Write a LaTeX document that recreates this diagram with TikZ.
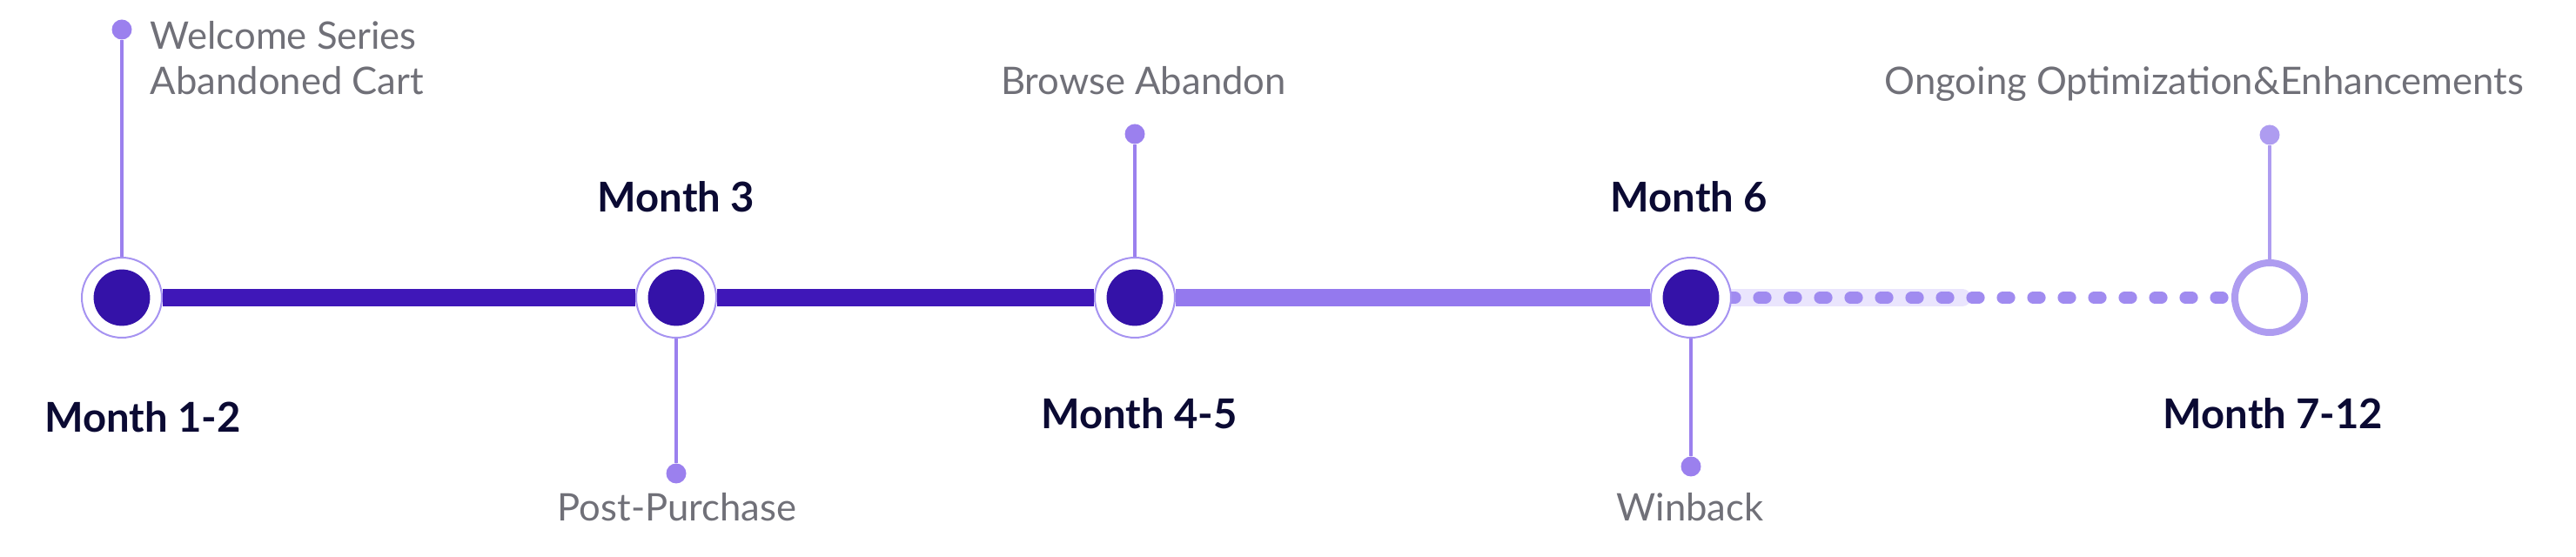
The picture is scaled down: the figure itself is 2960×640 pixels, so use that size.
\documentclass[tikz,border=0pt]{standalone}
\usepackage{fontspec}
\setmainfont{Lato}
\usetikzlibrary{positioning,backgrounds}
\pgfdeclarelayer{background layer}
\pgfsetlayers{background layer,main}
\definecolor{deep}{HTML}{3F17B8}
\definecolor{core}{HTML}{3412A8}
\definecolor{lilac}{HTML}{9479EE}
\definecolor{ringc}{HTML}{A693F1}
\definecolor{stemc}{HTML}{9B80EE}
\definecolor{pale}{HTML}{AE9CF0}
\definecolor{band}{HTML}{EAE5FD}
\definecolor{dashc}{HTML}{A08BF0}
\definecolor{title}{HTML}{0B0A33}
\definecolor{note}{HTML}{707078}

\begin{document}
\begin{tikzpicture}[x=0.25pt,y=-0.25pt,
	milestone/.style={circle,fill=white,draw=ringc,line width=0.5pt,minimum size=23pt,inner sep=0pt,
		path picture={\fill[core] (path picture bounding box.center) circle (8.1pt);}},
	future/.style={circle,fill=white,draw=pale,line width=2pt,minimum size=20pt,inner sep=0pt},
	knob/.style={circle,fill=#1,minimum size=5.75pt,inner sep=0pt},
	riser/.style={draw=#1,line width=1pt},
	month/.style={font=\bfseries\fontsize{11.8}{14}\selectfont,text=title,inner sep=0pt,anchor=base},
	event/.style={font=\fontsize{10.9}{13}\selectfont,text=note,inner sep=0pt,anchor=base}]
		\useasboundingbox (0,0) rectangle (2960,640);
		% milestones on the line
		\node (m12) [milestone] at (140,342) {};
		\node (m3) [milestone] at (777,342) {};
		\node (m45) [milestone] at (1304,342) {};
		\node (m6) [milestone] at (1943,342) {};
		\node (m712) [future] at (2608,342) {};
		\coordinate (bandend) at (2255,342);
		\begin{pgfonlayer}{background layer}
		\draw[deep,line width=5pt] (m12) -- (m3);
		\draw[deep,line width=5pt] (m3) -- (m45);
		\draw[lilac,line width=5pt] (m45) -- (m6);
		\draw[band,line width=5pt,line cap=round] (m6) -- (bandend);
		\draw[dashc,line width=3.5pt,line cap=round,dash pattern=on 1.8pt off 6.95pt,dash phase=0.9pt] (m6) -- (m712);
		\end{pgfonlayer}
		% stems
		\node (t12) [knob=stemc] at (140,34) {};
		\node (t3) [knob=stemc] at (777,544) {};
		\node (t45) [knob=stemc] at (1304,154) {};
		\node (t6) [knob=stemc] at (1943,536) {};
		\node (t712) [knob=pale] at (2608,155) {};
		\draw[riser=stemc] (m12) -- (t12);
		\draw[riser=stemc] (m3) -- (t3);
		\draw[riser=stemc] (m45) -- (t45);
		\draw[riser=stemc] (m6) -- (t6);
		\draw[riser=pale] (m712) -- (t712);
		% labels
		\node (l12) [month] at (164,497) {Month 1-2};
		\node (l3) [month] at (777,244) {Month 3};
		\node (l45) [month] at (1309,493) {Month 4-5};
		\node (l6) [month] at (1941,244) {Month 6};
		\node (l712) [month] at (2612,493) {Month 7-12};
		\node (e12) [event,anchor=base west,align=left] at (172,109) {Welcome Series\\Abandoned Cart};
		\node (e3) [event] at (778,599) {Post-Purchase};
		\node (e45) [event] at (1314,109) {Browse Abandon};
		\node (e6) [event] at (1942,599) {Winback};
		\node (e712) [event] at (2533,109) {Ongoing Optimization\&Enhancements};
\end{tikzpicture}
\end{document}
